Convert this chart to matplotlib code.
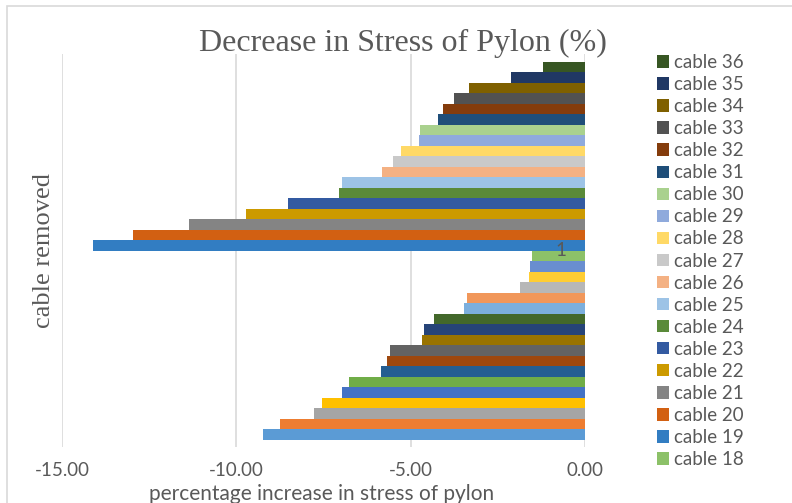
import numpy as np
import matplotlib
matplotlib.use("Agg")
from matplotlib import pyplot as plt
from matplotlib.patches import Rectangle

# percentage change in pylon stress, cable 1 .. cable 36
cables = ["cable %d" % i for i in range(1, 37)]
values = [-9.24, -8.75, -7.78, -7.53, -6.98, -6.78, -5.86, -5.69, -5.60, -4.68,
          -4.63, -4.34, -3.46, -3.37, -1.87, -1.62, -1.59, -1.51, -14.12, -12.97,
          -11.37, -9.73, -8.53, -7.06, -6.98, -5.83, -5.52, -5.28, -4.77, -4.72,
          -4.23, -4.06, -3.76, -3.33, -2.11, -1.21]
category = "1"
xticks = [-15, -10, -5, 0]

# excel office palette, repeated in shade variants
colors = ["#5B9BD5", "#ED7D31", "#A5A5A5", "#FFC000", "#4472C4", "#70AD47",
          "#255E91", "#9E480E", "#636363", "#997300", "#264478", "#43682B",
          "#7CAFDD", "#F1975A", "#B7B7B7", "#FFCD33", "#698ED0", "#8CC168",
          "#327DC2", "#D26012", "#848484", "#CC9A00", "#335AA1", "#5A8A39",
          "#9DC3E6", "#F4B183", "#C9C9C9", "#FFD966", "#8FAADC", "#A9D18E",
          "#1F4E79", "#843C0C", "#525252", "#7F6000", "#203864", "#375623"]

grey = "#595959"
sans = ["Lato", "DejaVu Sans"]
serif = ["Liberation Serif", "DejaVu Serif"]

fig = plt.figure(figsize=(7.92, 5.03), dpi=100)
ax = fig.add_axes([62/792, 1-447/503, (585-62)/792, (447-54)/503])

pos = np.arange(len(values))
bars = []
for i in range(len(values)):
    b = ax.barh(pos[i], values[i], height=1.0, color=colors[i], label=cables[i], zorder=3)
    bars.append(b)

ax.set_xlim(-15, 0)
ax.set_ylim(-1.17, 36.26)
ax.set_xticks(xticks)
ax.set_xticklabels(["%.2f" % t for t in xticks], fontsize=13.5, color=grey, family=sans)
ax.set_yticks([])
ax.tick_params(axis="x", length=0, pad=11)
ax.grid(axis="x", color="#D9D9D9", lw=1.2, zorder=0)
for s in ax.spines.values():
    s.set_visible(False)

# category label sits inside the plot near zero
ax.text(-0.7, (pos[17] + pos[18]) / 2, category, fontsize=13.5, color=grey,
        family=sans, ha="center", va="center", zorder=5)

fig.text(403/792, 1-43/503, "Decrease in Stress of Pylon (%)", fontsize=23,
         color=grey, family=serif, ha="center", va="center")
fig.text(44/792, 1-250/503, "cable removed", fontsize=19, color=grey,
         family=serif, rotation=90, ha="center", va="center")
fig.text(322/792, 1-494/503, "percentage increase in stress of pylon",
         fontsize=15, color=grey, family=sans, ha="center", va="center")

# legend only shows cable 36 down to cable 18
hs = [bars[i] for i in range(35, 16, -1)]
ls = [cables[i] for i in range(35, 16, -1)]
fig.legend(hs, ls, loc="upper left", bbox_to_anchor=(657/792, 1-54/503),
           frameon=False, prop={"family": sans, "size": 13.5},
           labelcolor=grey, handlelength=0.64, handleheight=0.64,
           handletextpad=0.27, labelspacing=0.27, borderaxespad=0, borderpad=0)

fig.patches.append(Rectangle((7/792, -0.1), 1.2, 1 - 6/503 + 0.1,
                             transform=fig.transFigure, fill=False,
                             edgecolor="#D9D9D9", lw=1.2))

fig.savefig("out.png", dpi=100)
